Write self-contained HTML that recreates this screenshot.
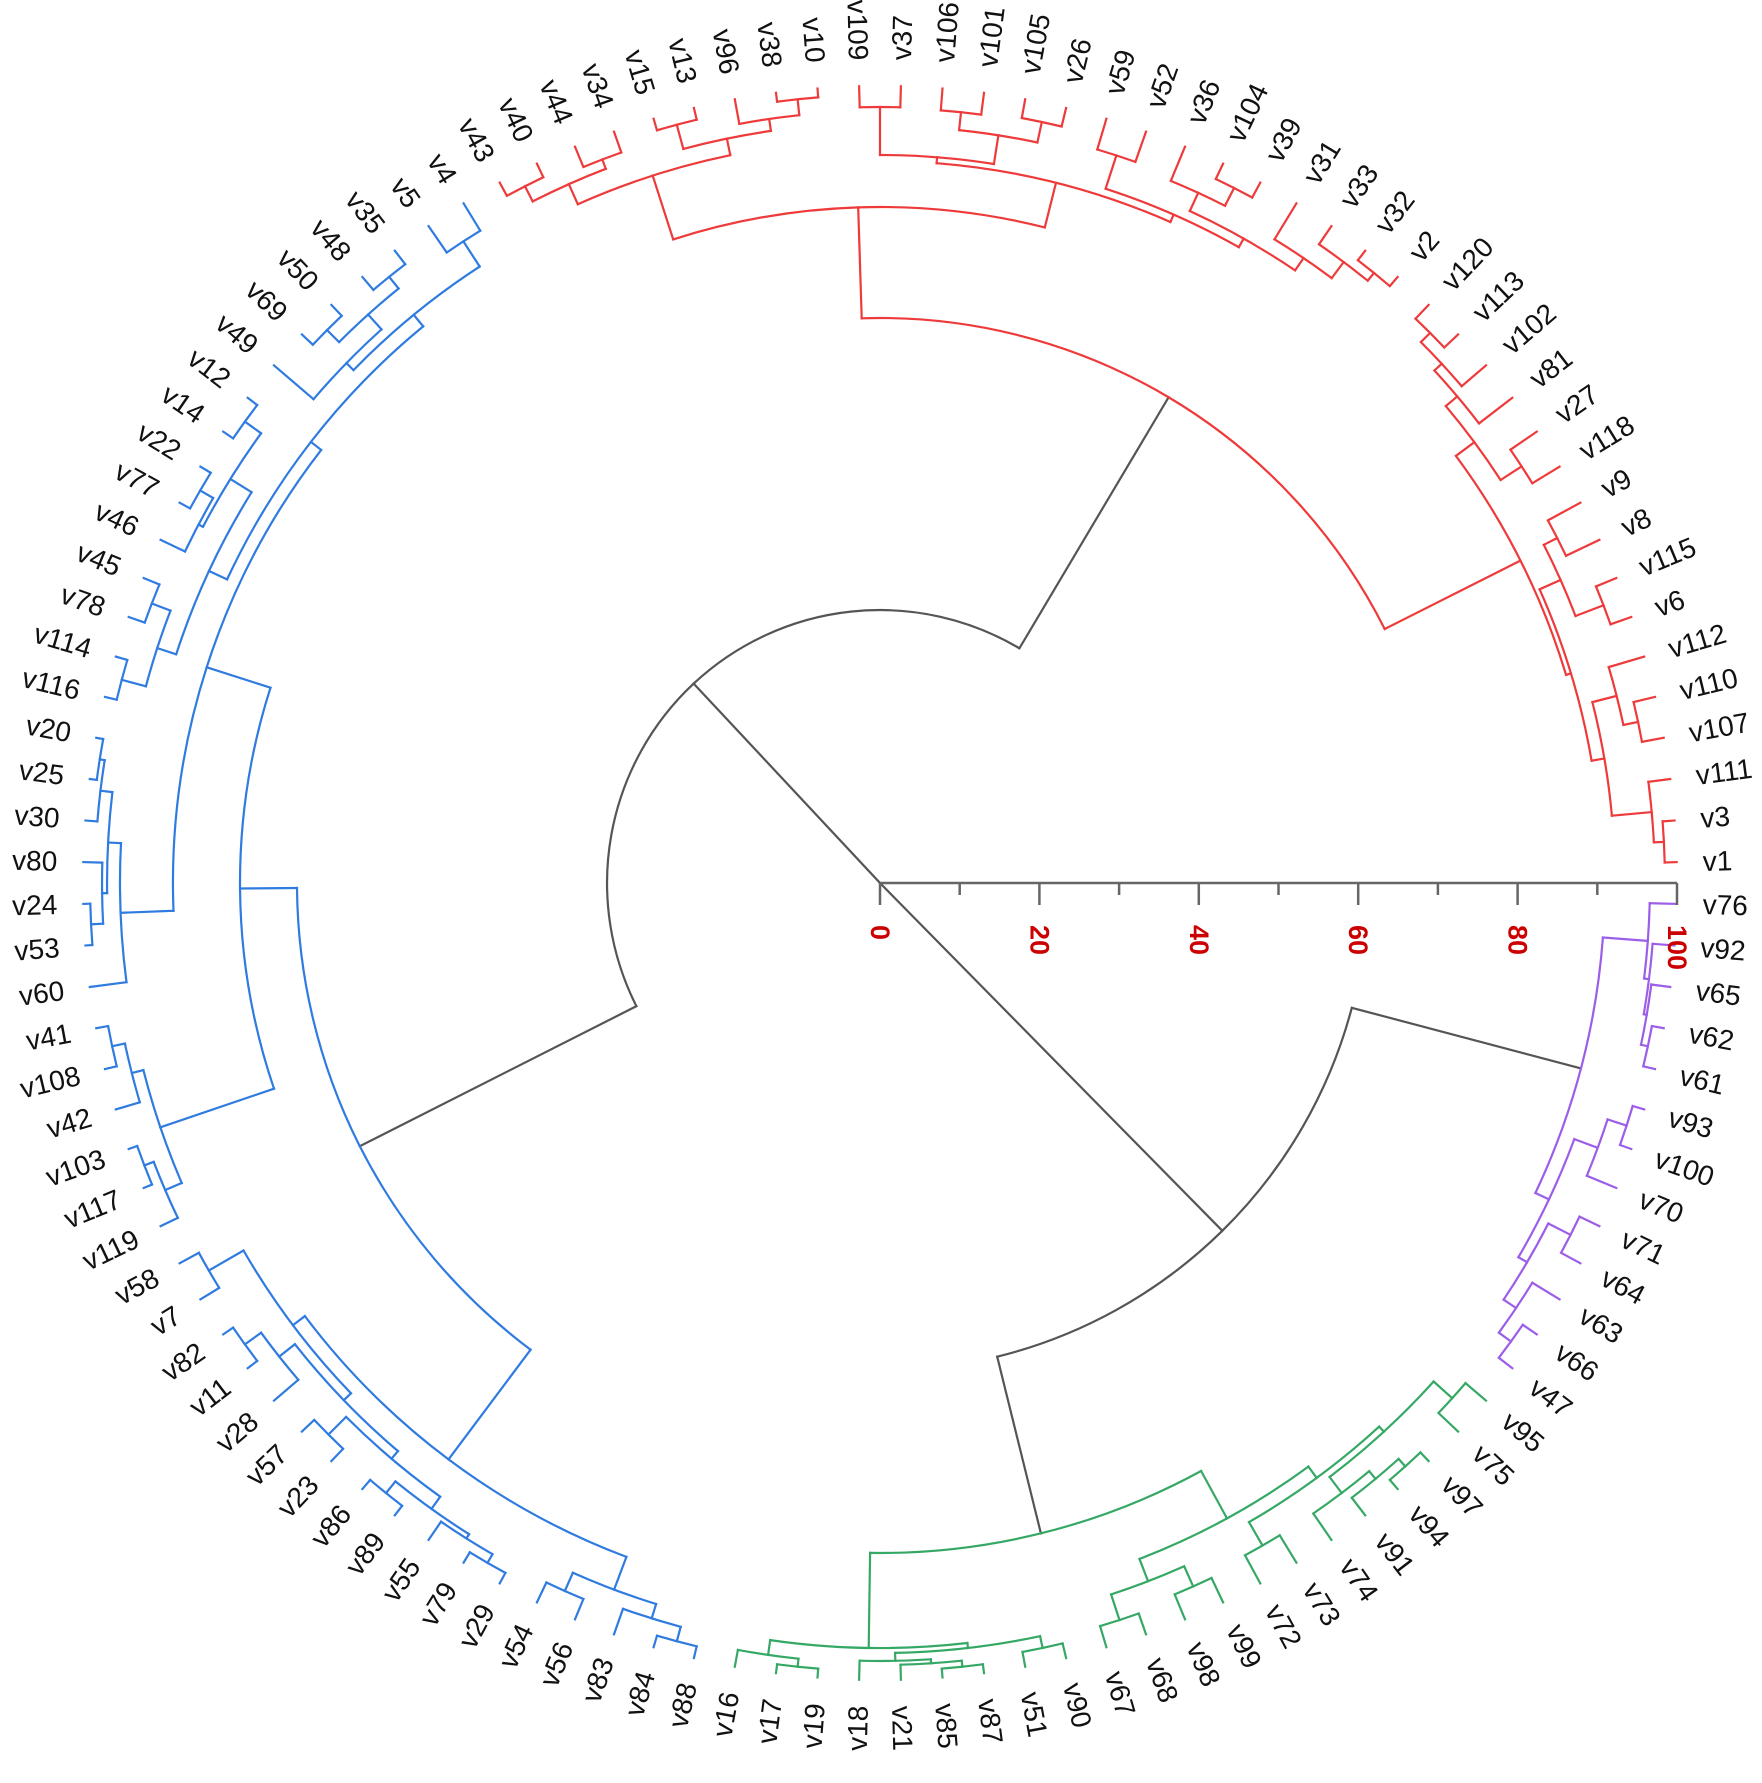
<!DOCTYPE html>
<html><head><meta charset="utf-8">
<style>
html,body{margin:0;padding:0;background:#fff;}
svg{display:block;}
.lb text{font-family:"Liberation Sans",sans-serif;font-size:28px;fill:#111;dominant-baseline:central;}
.ax text{font-family:"Liberation Sans",sans-serif;font-size:27px;font-weight:bold;fill:#cc0000;dominant-baseline:central;}
</style></head>
<body>
<svg id="s" width="1762" height="1783" viewBox="0 0 1762 1783" xmlns="http://www.w3.org/2000/svg">
<g id="tree" fill="none" stroke-width="2.2" stroke-linecap="square"></g>
<g class="ax" stroke="#666" stroke-width="2.5">
<line x1="880" y1="883" x2="1677" y2="883"/>
<line x1="880" y1="883" x2="880" y2="905"/>
<line x1="959.7" y1="883" x2="959.7" y2="895"/>
<line x1="1039.4" y1="883" x2="1039.4" y2="905"/>
<line x1="1119.1" y1="883" x2="1119.1" y2="895"/>
<line x1="1198.8" y1="883" x2="1198.8" y2="905"/>
<line x1="1278.5" y1="883" x2="1278.5" y2="895"/>
<line x1="1358.2" y1="883" x2="1358.2" y2="905"/>
<line x1="1437.9" y1="883" x2="1437.9" y2="895"/>
<line x1="1517.6" y1="883" x2="1517.6" y2="905"/>
<line x1="1597.3" y1="883" x2="1597.3" y2="895"/>
<line x1="1677" y1="883" x2="1677" y2="905"/>
<g stroke="none">
<text transform="translate(880 925) rotate(90)">0</text>
<text transform="translate(1039.4 925) rotate(90)">20</text>
<text transform="translate(1198.8 925) rotate(90)">40</text>
<text transform="translate(1358.2 925) rotate(90)">60</text>
<text transform="translate(1517.6 925) rotate(90)">80</text>
<text transform="translate(1677 925) rotate(90)">100</text>
</g>
</g>
<g class="lb" transform="translate(880 883)">
<text transform="rotate(-1.5) translate(823 0)">v1</text>
<text transform="rotate(-4.5) translate(823 0)">v3</text>
<text transform="rotate(-7.5) translate(823 0)">v111</text>
<text transform="rotate(-10.5) translate(823 0)">v107</text>
<text transform="rotate(-13.5) translate(823 0)">v110</text>
<text transform="rotate(-16.5) translate(823 0)">v112</text>
<text transform="rotate(-19.5) translate(823 0)">v6</text>
<text transform="rotate(-22.5) translate(823 0)">v115</text>
<text transform="rotate(-25.5) translate(823 0)">v8</text>
<text transform="rotate(-28.5) translate(823 0)">v9</text>
<text transform="rotate(-31.5) translate(823 0)">v118</text>
<text transform="rotate(-34.5) translate(823 0)">v27</text>
<text transform="rotate(-37.5) translate(823 0)">v81</text>
<text transform="rotate(-40.5) translate(823 0)">v102</text>
<text transform="rotate(-43.5) translate(823 0)">v113</text>
<text transform="rotate(-46.5) translate(823 0)">v120</text>
<text transform="rotate(-49.5) translate(823 0)">v2</text>
<text transform="rotate(-52.5) translate(823 0)">v32</text>
<text transform="rotate(-55.5) translate(823 0)">v33</text>
<text transform="rotate(-58.5) translate(823 0)">v31</text>
<text transform="rotate(-61.5) translate(823 0)">v39</text>
<text transform="rotate(-64.5) translate(823 0)">v104</text>
<text transform="rotate(-67.5) translate(823 0)">v36</text>
<text transform="rotate(-70.5) translate(823 0)">v52</text>
<text transform="rotate(-73.5) translate(823 0)">v59</text>
<text transform="rotate(-76.5) translate(823 0)">v26</text>
<text transform="rotate(-79.5) translate(823 0)">v105</text>
<text transform="rotate(-82.5) translate(823 0)">v101</text>
<text transform="rotate(-85.5) translate(823 0)">v106</text>
<text transform="rotate(-88.5) translate(823 0)">v37</text>
<g text-anchor="end">
<text transform="rotate(88.5) translate(-823 0)">v109</text>
<text transform="rotate(85.5) translate(-823 0)">v10</text>
<text transform="rotate(82.5) translate(-823 0)">v38</text>
<text transform="rotate(79.5) translate(-823 0)">v96</text>
<text transform="rotate(76.5) translate(-823 0)">v13</text>
<text transform="rotate(73.5) translate(-823 0)">v15</text>
<text transform="rotate(70.5) translate(-823 0)">v34</text>
<text transform="rotate(67.5) translate(-823 0)">v44</text>
<text transform="rotate(64.5) translate(-823 0)">v40</text>
<text transform="rotate(61.5) translate(-823 0)">v43</text>
<text transform="rotate(58.5) translate(-823 0)">v4</text>
<text transform="rotate(55.5) translate(-823 0)">v5</text>
<text transform="rotate(52.5) translate(-823 0)">v35</text>
<text transform="rotate(49.5) translate(-823 0)">v48</text>
<text transform="rotate(46.5) translate(-823 0)">v50</text>
<text transform="rotate(43.5) translate(-823 0)">v69</text>
<text transform="rotate(40.5) translate(-823 0)">v49</text>
<text transform="rotate(37.5) translate(-823 0)">v12</text>
<text transform="rotate(34.5) translate(-823 0)">v14</text>
<text transform="rotate(31.5) translate(-823 0)">v22</text>
<text transform="rotate(28.5) translate(-823 0)">v77</text>
<text transform="rotate(25.5) translate(-823 0)">v46</text>
<text transform="rotate(22.5) translate(-823 0)">v45</text>
<text transform="rotate(19.5) translate(-823 0)">v78</text>
<text transform="rotate(16.5) translate(-823 0)">v114</text>
<text transform="rotate(13.5) translate(-823 0)">v116</text>
<text transform="rotate(10.5) translate(-823 0)">v20</text>
<text transform="rotate(7.5) translate(-823 0)">v25</text>
<text transform="rotate(4.5) translate(-823 0)">v30</text>
<text transform="rotate(1.5) translate(-823 0)">v80</text>
<text transform="rotate(-1.5) translate(-823 0)">v24</text>
<text transform="rotate(-4.5) translate(-823 0)">v53</text>
<text transform="rotate(-7.5) translate(-823 0)">v60</text>
<text transform="rotate(-10.5) translate(-823 0)">v41</text>
<text transform="rotate(-13.5) translate(-823 0)">v108</text>
<text transform="rotate(-16.5) translate(-823 0)">v42</text>
<text transform="rotate(-19.5) translate(-823 0)">v103</text>
<text transform="rotate(-22.5) translate(-823 0)">v117</text>
<text transform="rotate(-25.5) translate(-823 0)">v119</text>
<text transform="rotate(-28.5) translate(-823 0)">v58</text>
<text transform="rotate(-31.5) translate(-823 0)">v7</text>
<text transform="rotate(-34.5) translate(-823 0)">v82</text>
<text transform="rotate(-37.5) translate(-823 0)">v11</text>
<text transform="rotate(-40.5) translate(-823 0)">v28</text>
<text transform="rotate(-43.5) translate(-823 0)">v57</text>
<text transform="rotate(-46.5) translate(-823 0)">v23</text>
<text transform="rotate(-49.5) translate(-823 0)">v86</text>
<text transform="rotate(-52.5) translate(-823 0)">v89</text>
<text transform="rotate(-55.5) translate(-823 0)">v55</text>
<text transform="rotate(-58.5) translate(-823 0)">v79</text>
<text transform="rotate(-61.5) translate(-823 0)">v29</text>
<text transform="rotate(-64.5) translate(-823 0)">v54</text>
<text transform="rotate(-67.5) translate(-823 0)">v56</text>
<text transform="rotate(-70.5) translate(-823 0)">v83</text>
<text transform="rotate(-73.5) translate(-823 0)">v84</text>
<text transform="rotate(-76.5) translate(-823 0)">v88</text>
<text transform="rotate(-79.5) translate(-823 0)">v16</text>
<text transform="rotate(-82.5) translate(-823 0)">v17</text>
<text transform="rotate(-85.5) translate(-823 0)">v19</text>
<text transform="rotate(-88.5) translate(-823 0)">v18</text>
</g>
<text transform="rotate(88.5) translate(823 0)">v21</text>
<text transform="rotate(85.5) translate(823 0)">v85</text>
<text transform="rotate(82.5) translate(823 0)">v87</text>
<text transform="rotate(79.5) translate(823 0)">v51</text>
<text transform="rotate(76.5) translate(823 0)">v90</text>
<text transform="rotate(73.5) translate(823 0)">v67</text>
<text transform="rotate(70.5) translate(823 0)">v68</text>
<text transform="rotate(67.5) translate(823 0)">v98</text>
<text transform="rotate(64.5) translate(823 0)">v99</text>
<text transform="rotate(61.5) translate(823 0)">v72</text>
<text transform="rotate(58.5) translate(823 0)">v73</text>
<text transform="rotate(55.5) translate(823 0)">v74</text>
<text transform="rotate(52.5) translate(823 0)">v91</text>
<text transform="rotate(49.5) translate(823 0)">v94</text>
<text transform="rotate(46.5) translate(823 0)">v97</text>
<text transform="rotate(43.5) translate(823 0)">v75</text>
<text transform="rotate(40.5) translate(823 0)">v95</text>
<text transform="rotate(37.5) translate(823 0)">v47</text>
<text transform="rotate(34.5) translate(823 0)">v66</text>
<text transform="rotate(31.5) translate(823 0)">v63</text>
<text transform="rotate(28.5) translate(823 0)">v64</text>
<text transform="rotate(25.5) translate(823 0)">v71</text>
<text transform="rotate(22.5) translate(823 0)">v70</text>
<text transform="rotate(19.5) translate(823 0)">v100</text>
<text transform="rotate(16.5) translate(823 0)">v93</text>
<text transform="rotate(13.5) translate(823 0)">v61</text>
<text transform="rotate(10.5) translate(823 0)">v62</text>
<text transform="rotate(7.5) translate(823 0)">v65</text>
<text transform="rotate(4.5) translate(823 0)">v92</text>
<text transform="rotate(1.5) translate(823 0)">v76</text>
</g>
</svg>
<script>
(function(){
var order="v1 v3 v111 v107 v110 v112 v6 v115 v8 v9 v118 v27 v81 v102 v113 v120 v2 v32 v33 v31 v39 v104 v36 v52 v59 v26 v105 v101 v106 v37 v109 v10 v38 v96 v13 v15 v34 v44 v40 v43 v4 v5 v35 v48 v50 v69 v49 v12 v14 v22 v77 v46 v45 v78 v114 v116 v20 v25 v30 v80 v24 v53 v60 v41 v108 v42 v103 v117 v119 v58 v7 v82 v11 v28 v57 v23 v86 v89 v55 v79 v29 v54 v56 v83 v84 v88 v16 v17 v19 v18 v21 v85 v87 v51 v90 v67 v68 v98 v99 v72 v73 v74 v91 v94 v97 v75 v95 v47 v66 v63 v64 v71 v70 v100 v93 v61 v62 v65 v92 v76".split(" ");
var idx={};order.forEach(function(n,i){idx[n]=i;});
var CX=880,CY=883,LEAF=797;
var RED="#ee3a3a",BLUE="#2f7be0",GREEN="#36a865",PURPLE="#9c5ee8",BLACK="#555";
var R1a=[722,[745,[760,"v9","v8"],[775,"v115","v6"]],[735,[760,"v112",[775,"v110","v107"]],[775,"v111",[785,"v3","v1"]]]];
var R1b=[740,[765,"v118","v27"],[755,"v81",[765,"v102",[778,"v113","v120"]]]];
var R1=[717,R1a,R1b];
var R2L=[743,[765,[782,"v43","v40"],[775,"v44","v34"]],[760,[785,"v15","v13"],[772,"v96",[788,"v38","v10"]]]];
var R2Ra=[728,[776,"v37","v109"],[757,[775,"v106","v101"],[778,"v105","v26"]]];
var R2Rb=[730,[765,"v59","v52"],[740,[760,"v36",[780,"v104","v39"]],[755,"v31",[775,"v33",[785,"v32","v2"]]]]];
var R2R=[722,R2Ra,R2Rb];
var R2=[676,R2L,R2R];
var Red=[565,R1,R2];
var BtopA=[735,[765,"v4","v5"],[745,[765,[780,"v35","v48"],[782,"v50","v69"]],"v49"]];
var BtopB=[740,[765,[785,"v12","v14"],[770,[785,"v22","v77"],"v46"]],[760,[780,"v45","v78"],[785,"v114","v116"]]];
var Btop=[720,BtopA,BtopB];
var Bmid=[760,[773,[785,[790,"v20","v25"],"v30"],[778,"v80",[790,"v24","v53"]]],"v60"];
var B1a=[707,Btop,Bmid];
var B1b=[760,[772,[785,"v41","v108"],"v42"],[778,[788,"v103","v117"],"v119"]];
var B1=[640,B1a,B1b];
var B2=[720,[735,[775,"v58","v7"],[745,[765,[785,"v82","v11"],"v28"],[755,[780,"v57","v23"],[770,[785,"v86","v89"],[775,"v55",[785,"v79","v29"]]]]]],[755,[775,"v54","v56"],[770,"v83",[785,"v84","v88"]]]];
var Blue=[583,B1,B2];
var G1=[765,[780,"v16",[788,"v17","v19"]],[770,[778,"v18",[782,"v21",[788,"v85","v87"]]],[782,"v51","v90"]]];
var G2=[724,[748,[775,"v67","v68"],[770,"v98","v99"]],[738,[765,"v72","v73"],[745,[765,"v74",[775,"v91",[785,"v94","v97"]]],[770,"v75","v95"]]]];
var Green=[670,G1,G2];
var P1=[770,"v76",[775,"v92",[778,"v65",[785,"v62","v61"]]]];
var P2=[740,[765,[785,"v93","v100"],"v70"],[750,[775,"v71","v64"],[765,"v63",[780,"v66","v47"]]]];
var Purple=[725,P1,P2];

var g=document.getElementById("tree");
var out=[];
function pt(a,r){var t=a*Math.PI/180;return [CX+r*Math.cos(t),CY-r*Math.sin(t)];}
function ang(n){if(typeof n==="string")return 1.5+3*idx[n];var a=[];for(var i=1;i<n.length;i++)a.push(ang(n[i]));return (Math.min.apply(null,a)+Math.max.apply(null,a))/2;}
function rad(n){return typeof n==="string"?LEAF:n[0];}
function line(a,r1,r2,c){var p=pt(a,r1),q=pt(a,r2);out.push('<path stroke="'+c+'" d="M'+p[0].toFixed(1)+' '+p[1].toFixed(1)+'L'+q[0].toFixed(1)+' '+q[1].toFixed(1)+'"/>');}
function arc(a1,a2,r,c){if(r<=0)return;var p=pt(a1,r),q=pt(a2,r);var large=(a2-a1)>180?1:0;out.push('<path stroke="'+c+'" d="M'+p[0].toFixed(1)+' '+p[1].toFixed(1)+'A'+r+' '+r+' 0 '+large+' 0 '+q[0].toFixed(1)+' '+q[1].toFixed(1)+'"/>');}
function draw(n,c){
  if(typeof n==="string")return;
  var r=n[0],as=[];
  for(var i=1;i<n.length;i++){var ch=n[i],a=ang(ch);as.push(a);line(a,r,rad(ch),c);}
  arc(Math.min.apply(null,as),Math.max.apply(null,as),r,c);
  for(var i=1;i<n.length;i++)draw(n[i],c);
}
var A=[273,Red,Blue],B=[488,Purple,Green];
function blackNode(n){var r=n[0],as=[];for(var i=1;i<n.length;i++){var a=ang(n[i]);as.push(a);line(a,r,rad(n[i]),BLACK);}arc(Math.min.apply(null,as),Math.max.apply(null,as),r,BLACK);}
var aA=ang(A),aB=ang(B);
line(aA,0,273,BLACK);line(aB,0,488,BLACK);
blackNode(A);
(function(){var ap=ang(Purple),ag=ang(Green);line(ap,488,725,BLACK);line(ag,488,670,BLACK);arc(ag,ap,488,BLACK);})();
draw(Red,RED);draw(Blue,BLUE);draw(Green,GREEN);draw(Purple,PURPLE);
g.innerHTML=out.join("");
})();
</script>
</body></html>
